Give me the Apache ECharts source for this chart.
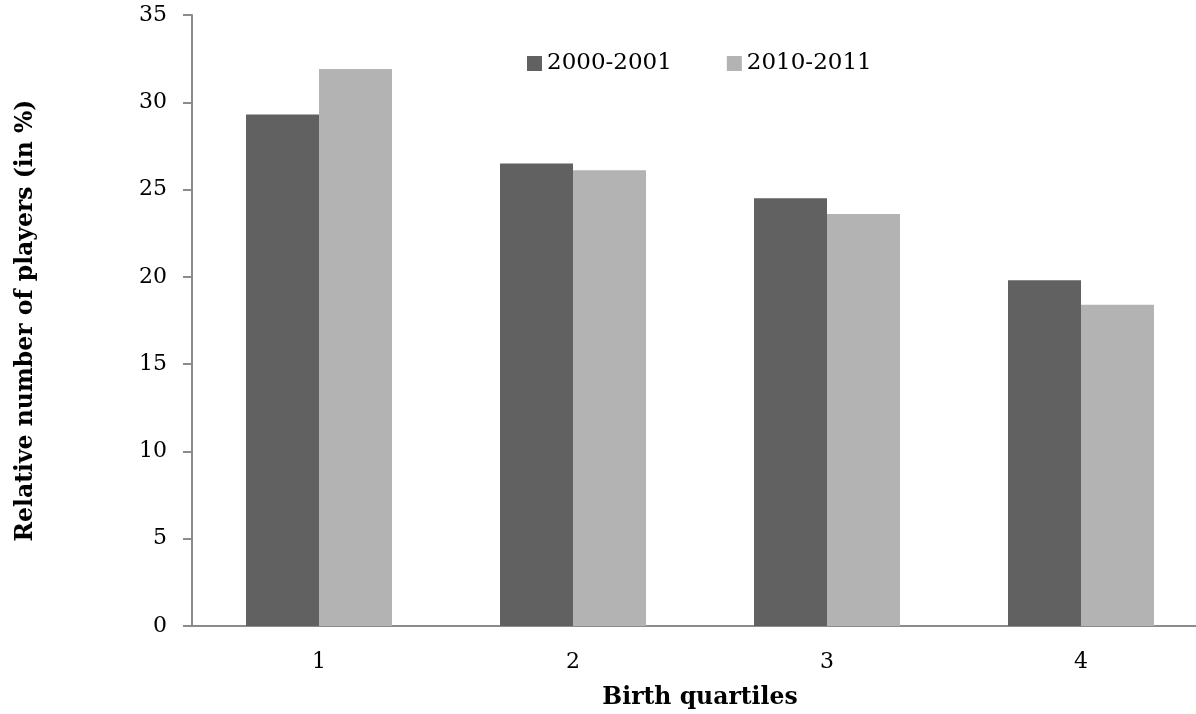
<!DOCTYPE html>
<html><head><meta charset="utf-8">
<script src="https://cdn.jsdelivr.net/npm/echarts@6/dist/echarts.min.js"></script>
<style>html,body{margin:0;padding:0;background:#fff}#c{width:1196px;height:714px}</style>
</head><body><div id="c"></div>
<script>
const categories = ['1','2','3','4'];
const seriesNames = ['2000-2001','2010-2011'];
const values2000 = [29.3, 26.5, 24.5, 19.8];
const values2010 = [31.9, 26.1, 23.6, 18.4];
const font = 'DejaVu Serif';
const chart = echarts.init(document.getElementById('c'));
chart.setOption({
  animation:false,
  backgroundColor:'#fff',
  legend:{
    data:seriesNames, top:47, left:522, itemWidth:15, itemHeight:15, itemGap:55,
    textStyle:{fontFamily:font,fontSize:23,color:'#000'}, icon:'rect'
  },
  grid:{left:192,top:15,width:1016,height:611,containLabel:false,outerBoundsMode:'none'},
  xAxis:{
    type:'category', data:categories,
    axisLine:{lineStyle:{color:'#8c8c8c',width:2}},
    axisTick:{show:false},
    axisLabel:{fontFamily:font,fontSize:22,color:'#000',margin:25},
    name:'Birth quartiles', nameLocation:'middle', nameGap:60,
    nameTextStyle:{fontFamily:font,fontSize:23.5,fontWeight:'bold',color:'#000'}
  },
  yAxis:{
    type:'value', min:0, max:35, interval:5,
    axisLine:{show:true,lineStyle:{color:'#8c8c8c',width:2}},
    axisTick:{show:true,length:9,lineStyle:{color:'#8c8c8c',width:2}},
    splitLine:{show:false},
    axisLabel:{fontFamily:font,fontSize:22,color:'#000',margin:25},
    name:'Relative number of players (in %)', nameLocation:'middle', nameGap:154,
    nameTextStyle:{fontFamily:font,fontSize:23.5,fontWeight:'bold',color:'#000'}
  },
  series:[
    {name:seriesNames[0],type:'bar',data:values2000,barWidth:73,barGap:'0%',itemStyle:{color:'#616161'}},
    {name:seriesNames[1],type:'bar',data:values2010,barWidth:73,barGap:'0%',itemStyle:{color:'#b3b3b3'}}
  ]
});
</script></body></html>
